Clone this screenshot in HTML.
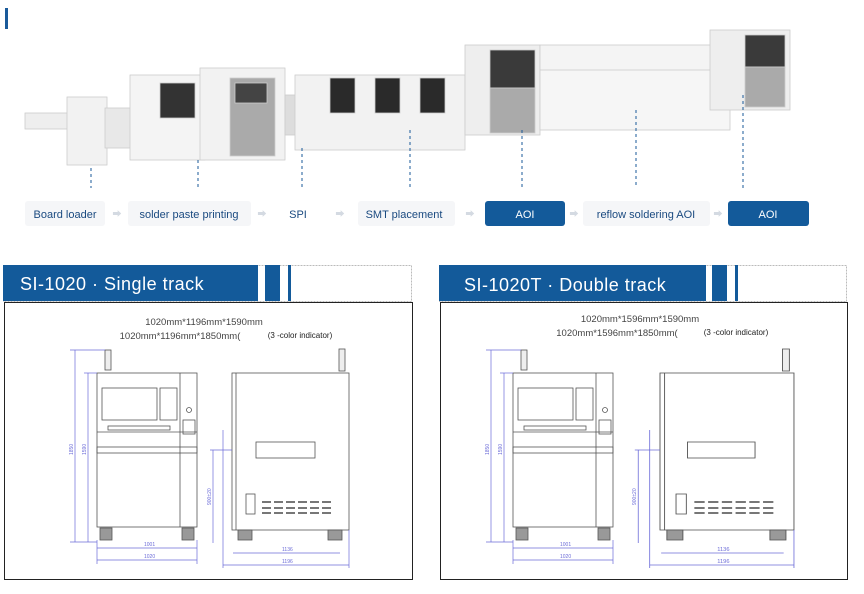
<!DOCTYPE html>
<html><head><meta charset="utf-8"><style>
body{margin:0;background:#fff;}
svg{display:block;font-family:"Liberation Sans","Noto Sans CJK SC",sans-serif;}
</style></head><body>
<svg width="864" height="594" viewBox="0 0 864 594" xmlns="http://www.w3.org/2000/svg">
<defs>
<g id="front" fill="none" stroke="#555" stroke-width="0.8">
  <rect x="105" y="350" width="6" height="20" fill="#eee"/>
  <rect x="97" y="373" width="100" height="154" fill="#fff"/>
  <line x1="180" y1="373" x2="180" y2="527"/>
  <rect x="102" y="388" width="55" height="32"/>
  <rect x="160" y="388" width="17" height="32"/>
  <rect x="108" y="426" width="62" height="4"/>
  <line x1="97" y1="432" x2="197" y2="432"/>
  <rect x="97" y="447" width="100" height="6"/>
  <rect x="183" y="420" width="12" height="14"/>
  <circle cx="189" cy="410" r="2.5"/>
  <rect x="100" y="528" width="12" height="12" fill="#999"/>
  <rect x="182" y="528" width="12" height="12" fill="#999"/>
  <g stroke="#6b6bd8" stroke-width="0.7">
    <line x1="75" y1="350" x2="75" y2="542"/><line x1="70" y1="350" x2="105" y2="350"/>
    <line x1="88" y1="373" x2="88" y2="542"/><line x1="84" y1="373" x2="97" y2="373"/>
    <line x1="70" y1="542" x2="97" y2="542"/>
    <line x1="97" y1="548" x2="197" y2="548"/><line x1="97" y1="560" x2="197" y2="560"/>
    <line x1="97" y1="540" x2="97" y2="564"/><line x1="197" y1="540" x2="197" y2="564"/>
  </g>
  <g fill="#6b6bd8" stroke="none" font-size="5">
    <text x="144" y="546">1001</text><text x="144" y="558">1020</text>
    <text transform="translate(73,455) rotate(-90)">1850</text>
    <text transform="translate(86,455) rotate(-90)">1590</text>
  </g>
</g>
<g id="side" fill="none" stroke="#555" stroke-width="0.8">
  <rect x="339" y="349" width="6" height="22" fill="#eee"/>
  <rect x="232" y="373" width="117" height="157" fill="#fff"/>
  <line x1="236" y1="373" x2="236" y2="530"/>
  <rect x="256" y="442" width="59" height="16"/>
  <rect x="246" y="494" width="9" height="20"/>
  <g stroke="#777" stroke-width="2">
    <line x1="262" y1="502" x2="333" y2="502" stroke-dasharray="9 3"/>
    <line x1="262" y1="508" x2="333" y2="508" stroke-dasharray="9 3"/>
    <line x1="262" y1="513" x2="333" y2="513" stroke-dasharray="9 3"/>
  </g>
  <rect x="238" y="530" width="14" height="10" fill="#999"/>
  <rect x="328" y="530" width="14" height="10" fill="#999"/>
  <g stroke="#6b6bd8" stroke-width="0.7">
    <line x1="213" y1="450" x2="213" y2="543"/><line x1="210" y1="450" x2="232" y2="450"/>
    <line x1="233" y1="553" x2="340" y2="553"/><line x1="223" y1="565" x2="349" y2="565"/>
    <line x1="223" y1="430" x2="223" y2="568"/><line x1="349" y1="530" x2="349" y2="568"/>
  </g>
  <g fill="#6b6bd8" stroke="none" font-size="5">
    <text x="282" y="551">1136</text><text x="282" y="563">1196</text>
    <text transform="translate(211,505) rotate(-90)">900±20</text>
  </g>
</g>
</defs>

<rect x="5" y="8" width="3" height="21" fill="#1a5a9a"/>

<!-- production line -->
<g stroke="#ccc" stroke-width="0.8">
  <rect x="25" y="113" width="45" height="16" fill="#eee"/>
  <rect x="67" y="97" width="40" height="68" fill="#f2f2f2"/>
  <rect x="105" y="108" width="30" height="40" fill="#e8e8e8"/>
  <rect x="130" y="75" width="75" height="85" fill="#f4f4f4"/>
  <rect x="160" y="83" width="35" height="35" fill="#333"/>
  <rect x="200" y="68" width="85" height="92" fill="#f2f2f2"/>
  <rect x="230" y="78" width="45" height="78" fill="#aaa"/>
  <rect x="235" y="83" width="32" height="20" fill="#444"/>
  <rect x="285" y="95" width="20" height="40" fill="#ddd"/>
  <rect x="295" y="75" width="170" height="75" fill="#f2f2f2"/>
  <rect x="330" y="78" width="25" height="35" fill="#2a2a2a"/>
  <rect x="375" y="78" width="25" height="35" fill="#2a2a2a"/>
  <rect x="420" y="78" width="25" height="35" fill="#2a2a2a"/>
  <rect x="465" y="45" width="75" height="90" fill="#eee"/>
  <rect x="490" y="50" width="45" height="38" fill="#3a3a3a"/>
  <rect x="490" y="88" width="45" height="45" fill="#aaa"/>
  <rect x="540" y="45" width="175" height="40" fill="#f4f4f4"/>
  <rect x="540" y="70" width="190" height="60" fill="#f6f6f6"/>
  <rect x="710" y="30" width="80" height="80" fill="#eee"/>
  <rect x="745" y="35" width="40" height="32" fill="#3a3a3a"/>
  <rect x="745" y="67" width="40" height="40" fill="#aaa"/>
</g>
<g stroke="#1a5a9a" stroke-width="1" stroke-dasharray="3 3">
  <line x1="91" y1="168" x2="91" y2="188"/><line x1="198" y1="160" x2="198" y2="188"/>
  <line x1="302" y1="148" x2="302" y2="188"/><line x1="410" y1="130" x2="410" y2="188"/>
  <line x1="522" y1="130" x2="522" y2="188"/><line x1="636" y1="110" x2="636" y2="188"/>
  <line x1="743" y1="95" x2="743" y2="188"/>
</g>

<!-- flow -->
<g font-size="11" fill="#1a4a80" text-anchor="middle">
  <rect x="25" y="201" width="80" height="25" rx="3" fill="#f5f6f8"/>
  <text x="65" y="218">Board loader</text>
  <rect x="128" y="201" width="123" height="25" rx="3" fill="#f5f6f8"/>
  <text x="189" y="218">solder paste printing</text>
  <text x="298" y="218">SPI</text>
  <rect x="358" y="201" width="97" height="25" rx="3" fill="#f5f6f8"/>
  <text x="404" y="218">SMT placement</text>
  <rect x="485" y="201" width="80" height="25" rx="3" fill="#135a9a"/>
  <text x="525" y="218" fill="#fff">AOI</text>
  <rect x="583" y="201" width="127" height="25" rx="3" fill="#f5f6f8"/>
  <text x="646" y="218">reflow soldering AOI</text>
  <rect x="728" y="201" width="81" height="25" rx="3" fill="#135a9a"/>
  <text x="768" y="218" fill="#fff">AOI</text>
  <g fill="#d4dae2">
    <text x="117" y="217" font-size="9">➡</text><text x="262" y="217" font-size="9">➡</text>
    <text x="340" y="217" font-size="9">➡</text><text x="470" y="217" font-size="9">➡</text>
    <text x="574" y="217" font-size="9">➡</text><text x="718" y="217" font-size="9">➡</text>
  </g>
</g>

<!-- headers -->
<rect x="3.5" y="265.5" width="408" height="36" fill="none" stroke="#bbb" stroke-dasharray="2 1"/>
<rect x="3" y="265" width="255" height="36" fill="#135a9a"/>
<rect x="265" y="265" width="15" height="36" fill="#135a9a"/>
<rect x="288" y="265" width="3" height="36" fill="#135a9a"/>
<text x="20" y="290" font-size="18" fill="#fff" letter-spacing="0.5">SI-1020 · Single track</text>
<rect x="439.5" y="265.5" width="407" height="36" fill="none" stroke="#bbb" stroke-dasharray="2 1"/>
<rect x="439" y="265" width="267" height="36" fill="#135a9a"/>
<rect x="712" y="265" width="15" height="36" fill="#135a9a"/>
<rect x="735" y="265" width="3" height="36" fill="#135a9a"/>
<text x="464" y="291" font-size="18" fill="#fff" letter-spacing="0.5">SI-1020T · Double track</text>

<!-- panels -->
<rect x="4.5" y="302.5" width="408" height="277" fill="#fff" stroke="#222"/>
<rect x="440.5" y="302.5" width="407" height="277" fill="#fff" stroke="#222"/>

<g font-size="9.5" fill="#444" text-anchor="middle">
  <text x="204" y="325">1020mm*1196mm*1590mm</text>
  <text x="180" y="339">1020mm*1196mm*1850mm(</text>
  <text x="300" y="338" font-size="8" fill="#222">(3 -color indicator)</text>
  <text x="640" y="322">1020mm*1596mm*1590mm</text>
  <text x="617" y="336">1020mm*1596mm*1850mm(</text>
  <text x="736" y="335" font-size="8" fill="#222">(3 -color indicator)</text>
</g>
<use href="#front"/>
<use href="#side"/>
<use href="#front" transform="translate(416,0) scale(1.0,1)"/>
<g transform="translate(660,0) scale(1.145,1) translate(-232,0)"><use href="#side"/></g>
</svg>
</body></html>
